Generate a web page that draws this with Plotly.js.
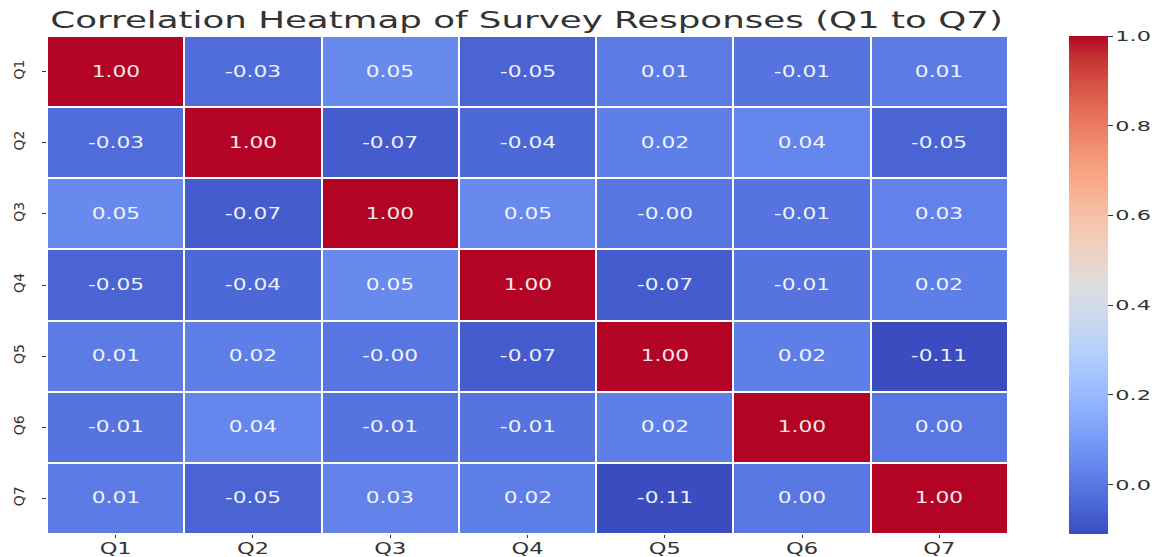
<!DOCTYPE html>
<html><head><meta charset="utf-8">
<script src="https://cdn.plot.ly/plotly-3.0.1.min.js"></script>
<style>html,body{margin:0;padding:0;background:#fff;}#chart{width:1165px;height:557px;}</style>
</head><body><div id="chart"></div>
<script>
const labels = ["Q1","Q2","Q3","Q4","Q5","Q6","Q7"];
const rowQ1 = [1.00, -0.03, 0.05, -0.05, 0.01, -0.01, 0.01];
const rowQ2 = [-0.03, 1.00, -0.07, -0.04, 0.02, 0.04, -0.05];
const rowQ3 = [0.05, -0.07, 1.00, 0.05, -0.004, -0.01, 0.03];
const rowQ4 = [-0.05, -0.04, 0.05, 1.00, -0.07, -0.01, 0.02];
const rowQ5 = [0.01, 0.02, -0.004, -0.07, 1.00, 0.02, -0.11];
const rowQ6 = [-0.01, 0.04, -0.01, -0.01, 0.02, 1.00, 0.00];
const rowQ7 = [0.01, -0.05, 0.03, 0.02, -0.11, 0.00, 1.00];
const z = [rowQ1,rowQ2,rowQ3,rowQ4,rowQ5,rowQ6,rowQ7];
const text = z.map(r => r.map(v => v.toFixed(2)));
const cbTicks = [0, 0.2, 0.4, 0.6, 0.8, 1.0];
const cbTickText = ["0.0","0.2","0.4","0.6","0.8","1.0"];

const cw = [[59,76,192],[68,90,204],[77,104,215],[87,117,225],[98,130,234],[108,142,241],[119,154,247],[130,165,251],[141,176,254],[152,185,255],[163,194,255],[174,201,253],[184,208,249],[194,213,244],[204,217,238],[213,219,230],[221,221,221],[229,216,209],[236,211,197],[241,204,184],[245,196,172],[247,187,159],[247,177,147],[247,166,134],[244,154,123],[241,141,111],[236,127,99],[229,112,89],[222,96,77],[213,80,66],[203,62,56],[192,40,47],[180,4,38]];
const colorscale = cw.map((c,i)=>[i/(cw.length-1), `rgb(${c[0]},${c[1]},${c[2]})`]);

const trace = {
  type:'heatmap', x:labels, y:labels, z:z, text:text, texttemplate:'%{text}',
  textfont:{family:'DejaVu Sans', size:15, color:'rgba(255,255,255,0.93)'},
  colorscale:colorscale, zmin:-0.11, zmax:1.0, xgap:2, ygap:2,
  colorbar:{x:1.0635, xanchor:'left', xpad:0, ypad:0, y:0.5, yanchor:'middle', len:1, lenmode:'fraction', thickness:39, outlinewidth:0,
    tickvals:cbTicks, ticktext:cbTickText, ticks:'outside', ticklen:5, tickwidth:1.3, tickcolor:'#333',
    tickfont:{family:'DejaVu Sans', size:14, color:'#333'}},
  hoverongaps:false
};
const layout = {
  width:1165, height:557,
  margin:{l:47, r:157, t:36, b:23, autoexpand:false},
  paper_bgcolor:'#fff', plot_bgcolor:'#fff',
  title:{text:'Correlation Heatmap of Survey Responses (Q1 to Q7)', x:0.452, xanchor:'center', y:0.964, yanchor:'middle',
    font:{family:'DejaVu Sans', size:23, color:'#333'}},
  xaxis:{tickfont:{family:'DejaVu Sans', size:15, color:'#333'}, ticks:'outside', ticklen:3, ticklabelstandoff:-2, tickcolor:'#333', showgrid:false, zeroline:false, showline:false},
  yaxis:{autorange:'reversed', tickangle:-90, ticklabelstandoff:12, tickfont:{family:'DejaVu Sans', size:14, color:'#333'}, ticks:'outside', ticklen:4, tickcolor:'#333', showgrid:false, zeroline:false, showline:false}
};

function stretchText(el, s) {
  const bb = el.getBBox();
  const anchor = el.getAttribute('text-anchor') || 'start';
  const lx = anchor === 'start' ? bb.x : (anchor === 'end' ? bb.x + bb.width : bb.x + bb.width/2);
  const ly = bb.y + bb.height/2;
  const tl = el.transform.baseVal.consolidate();
  const m = tl ? tl.matrix : {a:1,b:0,c:0,d:1,e:0,f:0};
  const px = m.a*lx + m.c*ly + m.e;
  const tr = el.getAttribute('transform') || '';
  el.setAttribute('transform', `translate(${px},0) scale(${s},1) translate(${-px},0) ${tr}`);
}

Plotly.newPlot('chart',[trace],layout,{displayModeBar:false, responsive:false}).then(gd => {
  gd.querySelectorAll('svg text').forEach(t => {
    if (t.closest('.yaxislayer-above')) return;
    let s = 1.45;
    if (t.closest('.g-gtitle') || t.classList.contains('gtitle')) s = 1.55;
    else if (t.closest('.xaxislayer-above')) s = 1.5;
    else if (t.closest('.colorbar')) s = 1.6;
    stretchText(t, s);
  });
});
</script></body></html>
